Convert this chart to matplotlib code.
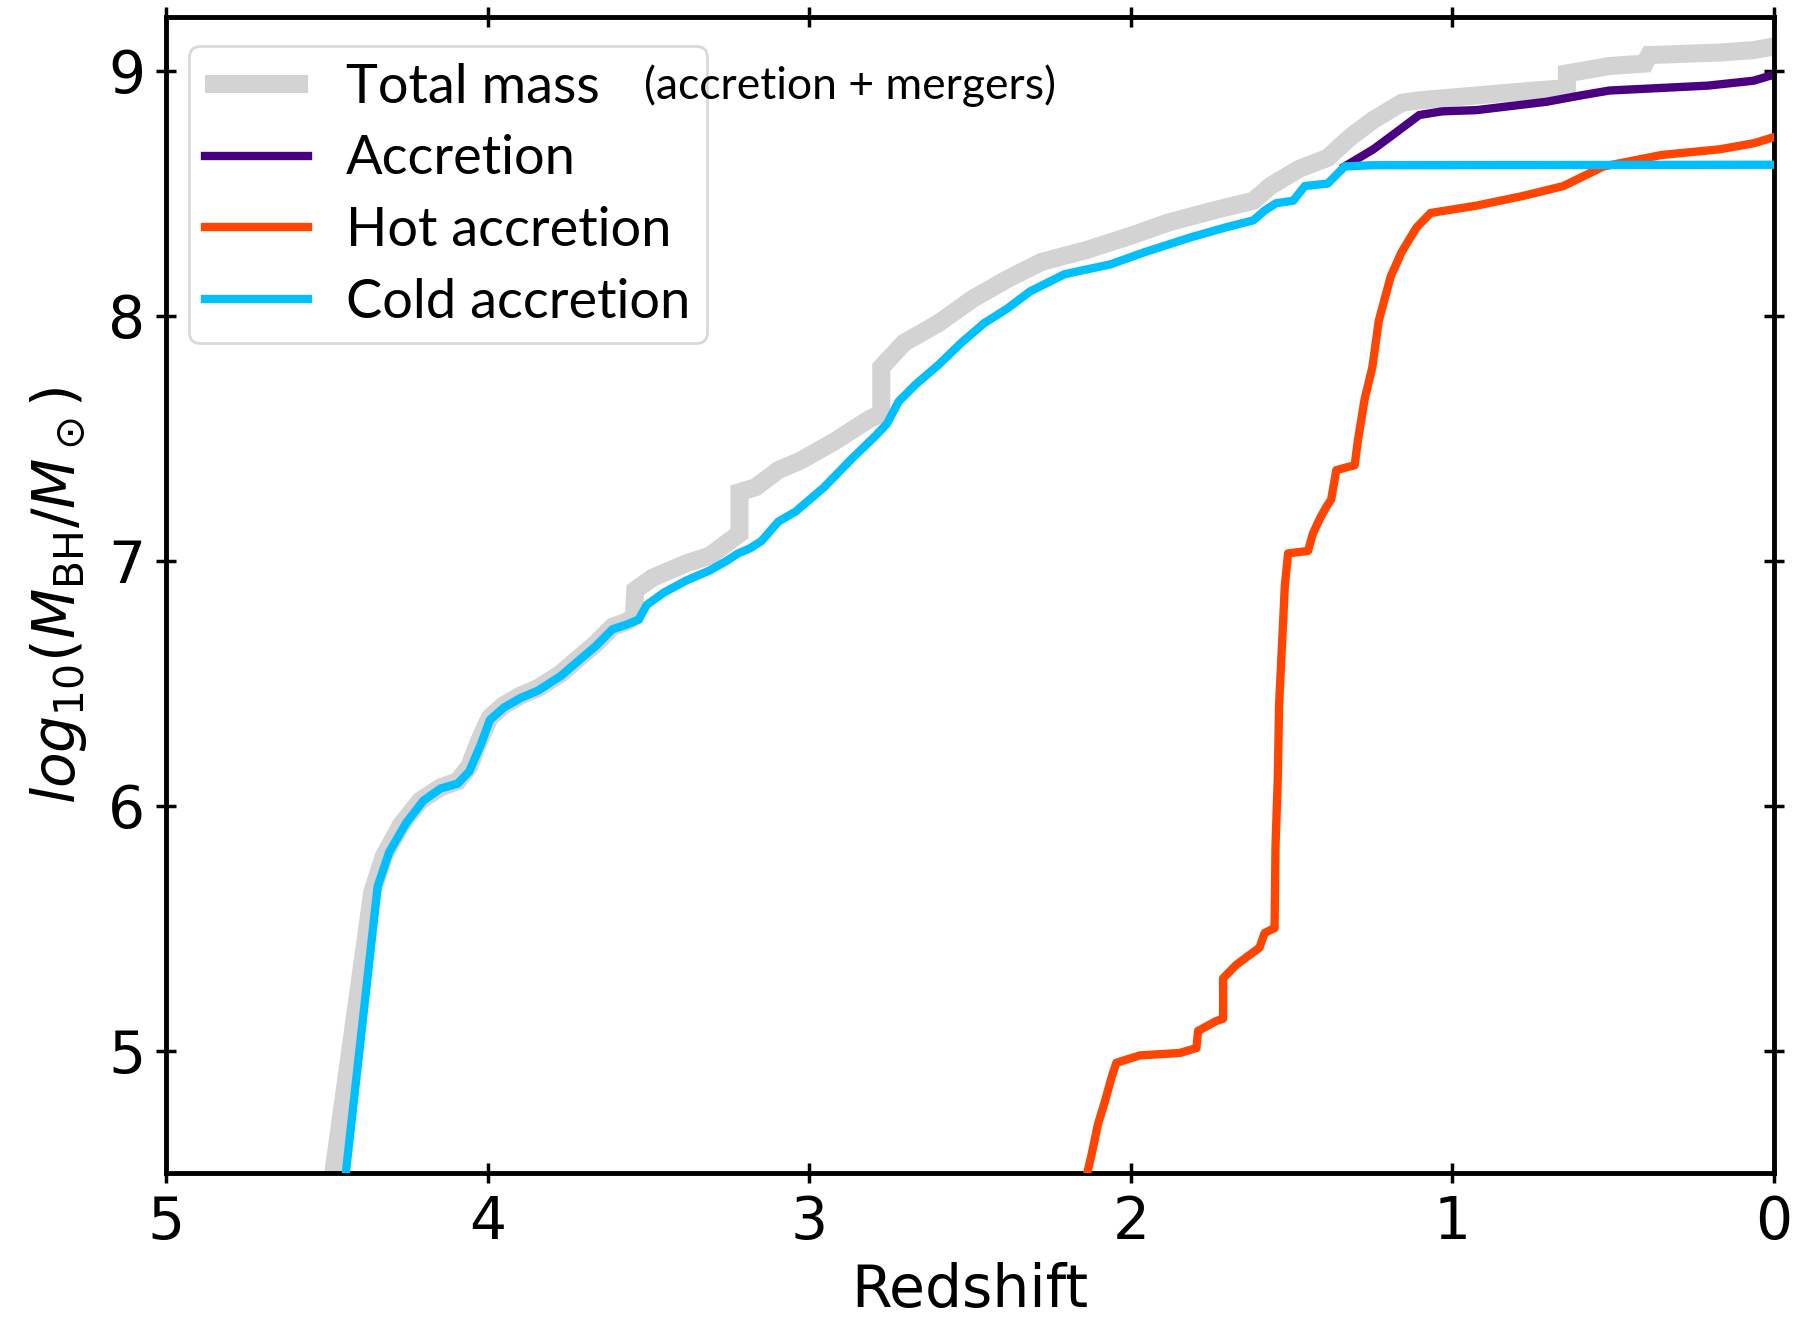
import matplotlib
matplotlib.use("Agg")
import matplotlib.pyplot as plt

# ---- data ----
z_total = [4.480, 4.359, 4.324, 4.270, 4.210, 4.146, 4.093, 4.057, 4.028, 3.993, 3.950,
           3.897, 3.843, 3.772, 3.719, 3.665, 3.612, 3.570, 3.545, 3.541, 3.488, 3.381,
           3.310, 3.238, 3.217, 3.217, 3.167, 3.096, 3.025, 2.918, 2.811, 2.776, 2.776,
           2.705, 2.598, 2.491, 2.384, 2.278, 2.135, 1.993, 1.886, 1.744, 1.619, 1.566,
           1.477, 1.388, 1.317, 1.246, 1.157, 1.103, 0.925, 0.744, 0.644, 0.644, 0.512,
           0.402, 0.388, 0.171, 0.064, 0.000]
m_total = [4.50, 5.645, 5.79, 5.92, 6.02, 6.075, 6.10, 6.16, 6.26, 6.36, 6.41,
           6.45, 6.48, 6.54, 6.60, 6.66, 6.73, 6.75, 6.77, 6.88, 6.93, 6.99,
           7.02, 7.09, 7.11, 7.28, 7.30, 7.37, 7.41, 7.49, 7.58, 7.60, 7.79,
           7.89, 7.97, 8.07, 8.15, 8.22, 8.27, 8.33, 8.38, 8.43, 8.47, 8.53,
           8.60, 8.645, 8.73, 8.80, 8.87, 8.88, 8.90, 8.92, 8.93, 8.99, 9.02,
           9.03, 9.065, 9.075, 9.085, 9.10]

z_acc = [1.335, 1.302, 1.246, 1.174, 1.103, 1.032, 0.925, 0.708, 0.601, 0.512,
         0.206, 0.064, 0.000]
m_acc = [8.61, 8.636, 8.68, 8.75, 8.82, 8.835, 8.84, 8.874, 8.90, 8.92,
         8.94, 8.96, 8.985]

z_hot = [2.133, 2.122, 2.102, 2.081, 2.060, 2.045, 1.972, 1.848, 1.796, 1.791,
         1.735, 1.713, 1.713, 1.672, 1.631, 1.600, 1.584, 1.553, 1.550, 1.543,
         1.539, 1.532, 1.521, 1.511, 1.449, 1.434, 1.413, 1.392, 1.377, 1.361,
         1.304, 1.294, 1.273, 1.249, 1.229, 1.192, 1.158, 1.112, 1.068, 0.925,
         0.779, 0.655, 0.530, 0.349, 0.169, 0.062, 0.000]
m_hot = [4.514, 4.575, 4.70, 4.79, 4.89, 4.95, 4.98, 4.99, 5.01, 5.08,
         5.12, 5.13, 5.295, 5.35, 5.39, 5.42, 5.48, 5.50, 5.84, 6.11,
         6.41, 6.60, 6.90, 7.03, 7.04, 7.11, 7.17, 7.22, 7.25, 7.37,
         7.39, 7.49, 7.66, 7.79, 7.98, 8.16, 8.26, 8.36, 8.42, 8.45,
         8.49, 8.53, 8.61, 8.657, 8.68, 8.705, 8.73]

z_cold = [4.441, 4.342, 4.306, 4.253, 4.200, 4.146, 4.093, 4.057, 4.021, 3.993,
          3.950, 3.897, 3.843, 3.772, 3.719, 3.665, 3.612, 3.566, 3.530, 3.505,
          3.452, 3.381, 3.310, 3.256, 3.221, 3.185, 3.149, 3.096, 3.043, 2.954,
          2.865, 2.794, 2.758, 2.722, 2.669, 2.598, 2.527, 2.456, 2.384, 2.313,
          2.206, 2.064, 1.957, 1.815, 1.708, 1.619, 1.584, 1.548, 1.495, 1.459,
          1.388, 1.335, 1.250, 0.000]
m_cold = [4.50, 5.67, 5.81, 5.93, 6.02, 6.07, 6.09, 6.14, 6.25, 6.35,
          6.40, 6.44, 6.47, 6.53, 6.59, 6.65, 6.72, 6.74, 6.76, 6.82,
          6.87, 6.92, 6.96, 7.00, 7.03, 7.05, 7.08, 7.16, 7.20, 7.30,
          7.42, 7.51, 7.56, 7.65, 7.72, 7.80, 7.89, 7.97, 8.03, 8.10,
          8.17, 8.21, 8.26, 8.32, 8.36, 8.39, 8.43, 8.46, 8.47, 8.53,
          8.54, 8.61, 8.615, 8.617]

labels = ["Total mass", "Accretion", "Hot accretion", "Cold accretion"]
colors = ["#d3d3d3", "#4b0082", "#ff4500", "#00bfff"]
x_ticks = [5, 4, 3, 2, 1, 0]
y_ticks = [5, 6, 7, 8, 9]

# ---- figure ----
fig = plt.figure(figsize=(17.95, 13.23), dpi=100)
ax = fig.add_axes([0.0925, 0.1134, 0.8958, 0.8737])

h0, = ax.plot(z_total, m_total, color=colors[0], lw=13, solid_capstyle="butt",
              solid_joinstyle="miter", label=labels[0], zorder=1)
h1, = ax.plot(z_acc, m_acc, color=colors[1], lw=6, label=labels[1], zorder=2)
h2, = ax.plot(z_hot, m_hot, color=colors[2], lw=6, label=labels[2], zorder=3)
h3, = ax.plot(z_cold, m_cold, color=colors[3], lw=6, label=labels[3], zorder=4)

ax.set_xlim(5, 0)
ax.set_ylim(4.5, 9.22)
ax.set_xticks(x_ticks)
ax.set_yticks(y_ticks)

for s in ax.spines.values():
    s.set_linewidth(3.5)
ax.tick_params(axis="both", which="major", direction="inout", length=14, width=2.5,
               labelsize=42, top=True, right=True, pad=8)

ax.set_xlabel("Redshift", fontsize=42, labelpad=8)
ax.set_ylabel(r"$log_{10}(M_{\rm BH}/M_\odot)$", fontsize=42, labelpad=14)

leg = ax.legend(handles=[h0, h1, h2, h3], loc="upper left",
                bbox_to_anchor=(-0.0025, 0.998), frameon=True,
                handlelength=1.9, handletextpad=0.7, labelspacing=0.42,
                borderpad=0.3, prop={"family": "Lato", "size": 39})
leg.get_frame().set_edgecolor("#d0d0d0")
leg.get_frame().set_linewidth(2)
leg.set_zorder(10)

ax.text(0.297, 0.941, "(accretion + mergers)", transform=ax.transAxes,
        fontsize=32, family="Lato", ha="left", va="center", zorder=20)

fig.savefig("out.png", dpi=100)
